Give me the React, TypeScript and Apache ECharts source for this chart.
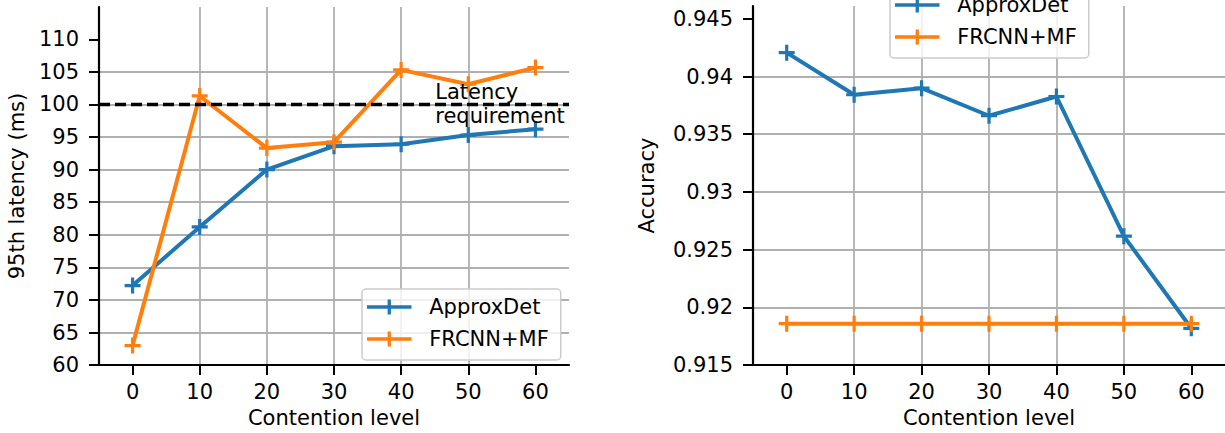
import React, { useEffect, useRef } from "react";
import * as echarts from "echarts";

const contentionLevels = [0, 10, 20, 30, 40, 50, 60];
const latencyApproxDet = [72.2, 81.2, 90.0, 93.6, 93.9, 95.3, 96.2];
const latencyFrcnnMf = [63.0, 101.3, 93.3, 94.2, 105.3, 103.1, 105.65];
const accuracyApproxDet = [0.94207, 0.93842, 0.93899, 0.9366, 0.93827, 0.92617, 0.91819];
const accuracyFrcnnMf = [0.91859, 0.91859, 0.91859, 0.91859, 0.91859, 0.91859, 0.91859];
const latencyRequirement = 100;
const annotationPos = [45, 100];
const annotationText = "Latency\nrequirement";
const latencyTicks = [60, 65, 70, 75, 80, 85, 90, 95, 100, 105, 110];
const accuracyTicks = [0.915, 0.92, 0.925, 0.93, 0.935, 0.94, 0.945];
const xTicks = [0, 10, 20, 30, 40, 50, 60];
const seriesNames = ["ApproxDet", "FRCNN+MF"];

const BLUE = "#1f77b4";
const ORANGE = "#ff7f0e";
const FONT = "DejaVu Sans";
const FS = 21;
const PLUS = "path://M4,0H6V4H10V6H6V10H4V6H0V4H4Z";
const LEGEND_ICON = "path://M0,6H46V9.5H0Z M21.3,0H24.7V15.5H21.3Z";

const pairs = (xs: number[], ys: number[]) => xs.map((x, i) => [x, ys[i]]);

export default function App() {
  const ref = useRef<HTMLDivElement>(null);
  useEffect(() => {
    document.body.style.margin = "0";
    const chart = echarts.init(ref.current!, null, { renderer: "svg" });

    const axisLine = { show: true, onZero: false, lineStyle: { color: "#000", width: 2.2 } };
    const splitLine = {
      show: true,
      showMinLine: false,
      showMaxLine: false,
      lineStyle: { color: "#b0b0b0", width: 1.8 },
    };
    const nameTextStyle = { fontSize: FS, color: "#000", fontFamily: FONT };

    const xAxisBase = (gridIndex: number) => ({
      type: "value",
      gridIndex,
      min: -5,
      max: 65,
      name: "Contention level",
      nameLocation: "middle",
      nameGap: 40,
      nameTextStyle,
      axisLine,
      axisTick: { show: true, length: 10, lineStyle: { color: "#000", width: 2 }, customValues: xTicks },
      axisLabel: {
        fontSize: FS,
        color: "#000",
        fontFamily: FONT,
        margin: 16,
        customValues: xTicks,
      },
      splitLine,
    });

    const lineSeries = (name: string, color: string, data: number[][], idx: number, extra: any = {}) => ({
      type: "line",
      name,
      xAxisIndex: idx,
      yAxisIndex: idx,
      data,
      symbol: PLUS,
      symbolSize: 16,
      showSymbol: true,
      showAllSymbol: true,
      color,
      lineStyle: { color, width: 4 },
      itemStyle: { color, borderWidth: 0 },
      emphasis: { disabled: true },
      ...extra,
    });

    const legendBase = (left: number, top: number) => ({
      data: seriesNames,
      orient: "vertical",
      left,
      top,
      icon: LEGEND_ICON,
      itemWidth: 46,
      itemHeight: 15,
      itemGap: 8,
      padding: [6, 12, 9, 5],
      backgroundColor: "rgba(255,255,255,0.8)",
      borderColor: "#cccccc",
      borderWidth: 1.5,
      borderRadius: 4,
      selectedMode: false,
      itemStyle: { borderWidth: 0 },
      textStyle: {
        fontSize: FS,
        color: "#000",
        fontFamily: FONT,
        lineHeight: 24,
        padding: [0, 0, 0, 12],
      },
    });

    chart.setOption({
      animation: false,
      textStyle: { fontFamily: FONT },
      grid: [
        { left: 99, top: 7, width: 470, height: 363 },
        { left: 753, top: 6, width: 472, height: 364 },
      ],
      xAxis: [xAxisBase(0), xAxisBase(1)],
      yAxis: [
        {
          type: "value",
          gridIndex: 0,
          min: 60,
          max: 114.95,
          interval: 5,
          name: "95th latency (ms)",
          nameLocation: "middle",
          nameGap: 72,
          nameTextStyle,
          axisLine,
          axisTick: { show: true, length: 10, lineStyle: { color: "#000", width: 2 }, customValues: latencyTicks },
          axisLabel: {
            fontSize: FS,
            color: "#000",
            fontFamily: FONT,
            margin: 20,
            customValues: latencyTicks,
          },
          splitLine,
        },
        {
          type: "value",
          gridIndex: 1,
          min: 0.915,
          max: 0.94611,
          interval: 0.005,
          name: "Accuracy",
          nameLocation: "middle",
          nameGap: 96,
          nameTextStyle,
          axisLine,
          axisTick: { show: true, length: 10, lineStyle: { color: "#000", width: 2 }, customValues: accuracyTicks },
          axisLabel: {
            fontSize: FS,
            color: "#000",
            fontFamily: FONT,
            margin: 20,
            customValues: accuracyTicks,
            formatter: (v: number) => String(parseFloat(Number(v).toFixed(3))),
          },
          splitLine,
        },
      ],
      legend: [legendBase(362, 289), legendBase(890, -13)],
      series: [
        lineSeries(seriesNames[0], BLUE, pairs(contentionLevels, latencyApproxDet), 0),
        lineSeries(seriesNames[1], ORANGE, pairs(contentionLevels, latencyFrcnnMf), 0, {
          markLine: {
            silent: true,
            symbol: ["none", "none"],
            label: { show: false },
            lineStyle: { color: "#000", type: [11, 5], width: 3.3 },
            emphasis: { disabled: true },
            data: [{ yAxis: latencyRequirement }],
          },
          markPoint: {
            silent: true,
            symbol: "circle",
            symbolSize: 1,
            itemStyle: { color: "transparent" },
            label: {
              show: true,
              position: "right",
              distance: 0,
              formatter: annotationText,
              color: "#000",
              fontSize: FS,
              lineHeight: 24,
              fontFamily: FONT,
              align: "left",
            },
            data: [{ coord: annotationPos }],
          },
        }),
        lineSeries(seriesNames[0], BLUE, pairs(contentionLevels, accuracyApproxDet), 1),
        lineSeries(seriesNames[1], ORANGE, pairs(contentionLevels, accuracyFrcnnMf), 1),
      ],
    });
    return () => chart.dispose();
  }, []);
  return <div ref={ref} style={{ width: 1225, height: 433 }} />;
}
